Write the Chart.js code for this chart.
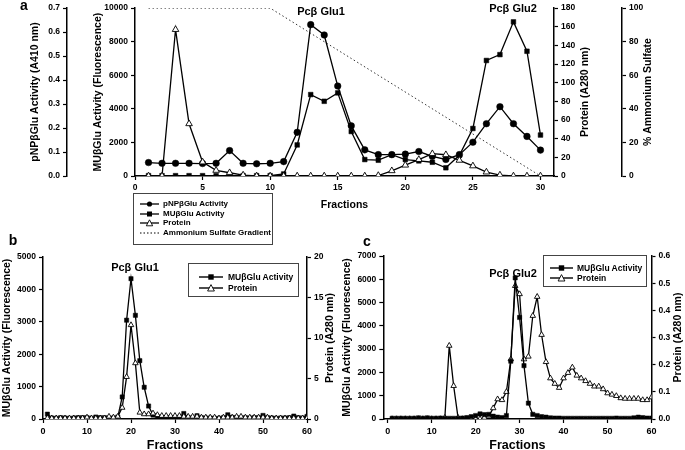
<!DOCTYPE html>
<html>
<head>
<meta charset="utf-8">
<script src="https://cdn.jsdelivr.net/npm/chart.js@4.4.1/dist/chart.umd.min.js"></script>
<style>
body { margin: 0; background: #fff; width: 685px; height: 450px; overflow: hidden; position: relative;
       font-family: "Liberation Sans", Arial, sans-serif; font-weight: bold; color: #000; }
canvas { position: absolute; display: block; }
.lbl { position: absolute; white-space: nowrap; line-height: 1; transform: translate(-50%, -50%); }
.legend { position: absolute; border: 1px solid #444; background: #fff; box-sizing: border-box; }
.legend .row { position: absolute; left: 0; white-space: nowrap; line-height: 1; display: flex; align-items: center; }
.legend svg { display: block; }
</style>
</head>
<body>
<canvas id="chartA" width="685" height="215" style="left:0px;top:0px"></canvas>
<canvas id="chartB" width="345" height="220" style="left:0px;top:235px"></canvas>
<canvas id="chartC" width="345" height="220" style="left:340px;top:235px"></canvas>

<div class="lbl" style="left:24px;top:5px;font-size:14px">a</div>
<div class="lbl" style="left:13px;top:240px;font-size:14px">b</div>
<div class="lbl" style="left:367px;top:241px;font-size:14px">c</div>
<div class="lbl" style="left:321px;top:11px;font-size:11px">Pcβ Glu1</div>
<div class="lbl" style="left:513px;top:8px;font-size:11px">Pcβ Glu2</div>
<div class="lbl" style="left:135px;top:267px;font-size:11px">Pcβ Glu1</div>
<div class="lbl" style="left:513px;top:273px;font-size:11px">Pcβ Glu2</div>

<div class="legend" style="left:133px;top:193px;width:140px;height:52px;font-size:8px">
  <div class="row" style="left:6px;top:6px"><svg width="19" height="8"><line x1="0" y1="4" x2="19" y2="4" stroke="#000" stroke-width="1.3"/><circle cx="9.5" cy="4" r="2.6" fill="#000"/></svg><span style="margin-left:4px">pNPβGlu Activity</span></div>
  <div class="row" style="left:6px;top:15.5px"><svg width="19" height="8"><line x1="0" y1="4" x2="19" y2="4" stroke="#000" stroke-width="1.3"/><rect x="7" y="1.5" width="5" height="5" fill="#000"/></svg><span style="margin-left:4px">MUβGlu Activity</span></div>
  <div class="row" style="left:6px;top:25px"><svg width="19" height="8"><line x1="0" y1="4" x2="19" y2="4" stroke="#000" stroke-width="1.3"/><polygon points="9.5,0.8 12.7,6.8 6.3,6.8" fill="#fff" stroke="#000" stroke-width="0.9"/></svg><span style="margin-left:4px">Protein</span></div>
  <div class="row" style="left:6px;top:34.5px"><svg width="19" height="8"><line x1="0" y1="4" x2="19" y2="4" stroke="#000" stroke-width="1" stroke-dasharray="1.5,2"/></svg><span style="margin-left:4px">Ammonium Sulfate Gradient</span></div>
</div>

<div class="legend" style="left:188px;top:263px;width:111px;height:34px;font-size:8.5px">
  <div class="row" style="left:10px;top:9px"><svg width="24" height="8"><line x1="0" y1="4" x2="24" y2="4" stroke="#000" stroke-width="1.4"/><rect x="9.3" y="1.3" width="5.4" height="5.4" fill="#000"/></svg><span style="margin-left:5px">MUβGlu Activity</span></div>
  <div class="row" style="left:10px;top:19.5px"><svg width="24" height="8"><line x1="0" y1="4" x2="24" y2="4" stroke="#000" stroke-width="1.4"/><polygon points="12,0.6 15.4,7 8.6,7" fill="#fff" stroke="#000" stroke-width="0.9"/></svg><span style="margin-left:5px">Protein</span></div>
</div>

<div class="legend" style="left:543px;top:255px;width:104px;height:32px;font-size:8.5px">
  <div class="row" style="left:6px;top:8px"><svg width="23" height="8"><line x1="0" y1="4" x2="23" y2="4" stroke="#000" stroke-width="1.4"/><rect x="8.8" y="1.3" width="5.4" height="5.4" fill="#000"/></svg><span style="margin-left:4px">MUβGlu Activity</span></div>
  <div class="row" style="left:6px;top:18px"><svg width="23" height="8"><line x1="0" y1="4" x2="23" y2="4" stroke="#000" stroke-width="1.4"/><polygon points="11.5,0.6 14.9,7 8.1,7" fill="#fff" stroke="#000" stroke-width="0.9"/></svg><span style="margin-left:4px">Protein</span></div>
</div>

<script>
// ---- panel a: 30 fractions ----
const fractionsA = [1, 2, 3, 4, 5, 6, 7, 8, 9, 10, 11, 12, 13, 14, 15, 16, 17, 18, 19, 20, 21, 22, 23, 24, 25, 26, 27, 28, 29, 30];
const pnpA = [0.056, 0.053, 0.053, 0.053, 0.052, 0.053, 0.106, 0.053, 0.051, 0.053, 0.060, 0.182, 0.631, 0.588, 0.375,
              0.209, 0.109, 0.089, 0.089, 0.091, 0.102, 0.082, 0.069, 0.089, 0.141, 0.218, 0.289, 0.218, 0.165, 0.108];
const muA = [20, 20, 20, 20, 20, 20, 20, 20, 20, 20, 120, 1850, 4850, 4450, 4950,
             2650, 980, 940, 1270, 980, 900, 820, 490, 1230, 2830, 6880, 7230, 9180, 7430, 2440];
const proteinA = [0, 0, 157, 56, 15, 6, 3.5, 1, 0, 0, 0, 0, 0, 0, 0,
                  0, 0, 0.5, 5.6, 11.6, 17.6, 23.9, 22.8, 16.8, 10.8, 4.2, 1, 0, 0, 0];
const gradFractions = [1, 10, 30];
const gradPercent = [100, 100, 0];

const xTicksA = [0, 5, 10, 15, 20, 25, 30];
const pnpTicks = [0, 0.1, 0.2, 0.3, 0.4, 0.5, 0.6, 0.7];
const muTicksA = [0, 2000, 4000, 6000, 8000, 10000];
const proteinTicksA = [0, 20, 40, 60, 80, 100, 120, 140, 160, 180];
const sulfateTicks = [0, 20, 40, 60, 80, 100];

// ---- panels b and c: 60 fractions ----
const fractionsBC = [1, 2, 3, 4, 5, 6, 7, 8, 9, 10, 11, 12, 13, 14, 15, 16, 17, 18, 19, 20,
                     21, 22, 23, 24, 25, 26, 27, 28, 29, 30, 31, 32, 33, 34, 35, 36, 37, 38, 39, 40,
                     41, 42, 43, 44, 45, 46, 47, 48, 49, 50, 51, 52, 53, 54, 55, 56, 57, 58, 59, 60];
const muB = [150, 30, 20, 40, 30, 20, 30, 40, 40, 40, 20, 60, 40, 40, 30, 30, 60, 680, 3050, 4330,
             3200, 1800, 980, 400, 120, 50, 40, 30, 40, 30, 50, 170, 40, 30, 100, 40, 30, 30, 20, 20,
             40, 130, 50, 40, 30, 40, 30, 40, 40, 110, 40, 30, 20, 30, 30, 40, 90, 40, 30, 80];
const proteinB = [0.1, 0.1, 0.1, 0.1, 0.1, 0.1, 0.1, 0.1, 0.1, 0.2, 0.1, 0.1, 0.1, 0.1, 0.3, 0.2, 0.3, 1.4, 5.2, 11.6,
                  6.9, 0.8, 0.6, 0.6, 0.7, 0.5, 0.4, 0.4, 0.4, 0.4, 0.4, 0.3, 0.3, 0.3, 0.3, 0.2, 0.2, 0.2, 0.2, 0.1,
                  0.2, 0.2, 0.2, 0.3, 0.3, 0.2, 0.2, 0.2, 0.2, 0.2, 0.2, 0.1, 0.1, 0.1, 0.1, 0.1, 0.1, 0.1, 0.1, 0.1];
const muC = [30, 30, 30, 30, 30, 30, 50, 30, 50, 30, 30, 40, 30, 30, 30, 30, 40, 60, 100, 150,
             220, 190, 200, 120, 80, 60, 150, 2480, 6060, 4360, 2290, 680, 200, 150, 100, 80, 50, 40, 40, 30,
             30, 30, 30, 30, 30, 30, 30, 30, 30, 30, 30, 40, 30, 30, 30, 50, 80, 60, 40, 40];
const proteinC = [0, 0, 0, 0, 0, 0, 0, 0, 0, 0, 0, 0, 0.005, 0.27, 0.122, 0.005, 0, 0, 0, 0,
                  0, 0.005, 0.01, 0.04, 0.073, 0.07, 0.1, 0.22, 0.49, 0.46, 0.22, 0.23, 0.38, 0.45, 0.31, 0.21, 0.15, 0.13, 0.115, 0.15,
                  0.17, 0.19, 0.16, 0.15, 0.14, 0.13, 0.12, 0.12, 0.11, 0.095, 0.09, 0.085, 0.077, 0.075, 0.075, 0.075, 0.075, 0.07, 0.07, 0.08];

const xTicksBC = [0, 10, 20, 30, 40, 50, 60];
const muTicksB = [0, 1000, 2000, 3000, 4000, 5000];
const proteinTicksB = [0, 5, 10, 15, 20];
const muTicksC = [0, 1000, 2000, 3000, 4000, 5000, 6000, 7000];
const proteinTicksC = [0, 0.1, 0.2, 0.3, 0.4, 0.5, 0.6];

const FONT = '"Liberation Sans", Arial, sans-serif';

// right hand axis titles read bottom-to-top like the left ones
const sideTitles = {
    id: 'sideTitles',
    afterDraw(chart, args, opts) {
        const ctx = chart.ctx;
        ctx.save();
        ctx.fillStyle = '#000';
        ctx.font = 'bold ' + opts.size + 'px ' + FONT;
        ctx.textAlign = 'center';
        ctx.textBaseline = 'middle';
        opts.items.forEach(it => {
            const s = chart.scales[it.scale];
            ctx.save();
            ctx.translate(s.right - it.offset, (s.top + s.bottom) / 2);
            ctx.rotate(-Math.PI / 2);
            ctx.fillText(it.text, 0, 0);
            ctx.restore();
        });
        ctx.restore();
    }
};

function axis(position, min, max, tickList, width, opts) {
    opts = opts || {};
    const a = {
        type: 'linear',
        position: position,
        min: min,
        max: max,
        weight: opts.weight || 0,
        afterBuildTicks: s => { s.ticks = tickList.map(v => ({ value: v })); },
        ticks: {
            color: '#000',
            padding: 3,
            font: { family: FONT, weight: 'bold', size: opts.tickSize || 8.5 },
            callback: opts.fmt || (v => v)
        },
        grid: { drawOnChartArea: false, drawTicks: true, tickLength: 4, tickColor: '#000', tickWidth: 1.2 },
        border: { display: true, color: '#000', width: 1.5 },
        title: { display: false }
    };
    if (position === 'bottom') {
        a.afterFit = s => { s.height = width; };
    } else {
        a.afterFit = s => { s.width = width; };
    }
    if (opts.title) {
        a.title = {
            display: true,
            text: opts.title,
            color: '#000',
            font: { family: FONT, weight: 'bold', size: opts.titleSize || 10.5 },
            padding: opts.titlePad || 0
        };
    }
    return a;
}

function lineSet(label, data, axisId, style, radius) {
    const filled = style !== 'triangle';
    return {
        label: label,
        data: data,
        yAxisID: axisId,
        borderColor: '#000',
        borderWidth: 1.3,
        pointStyle: style,
        pointRadius: radius,
        pointBackgroundColor: filled ? '#000' : '#fff',
        pointBorderColor: '#000',
        pointBorderWidth: filled ? 0.5 : 0.9,
        tension: 0,
        fill: false
    };
}

const common = {
    responsive: false,
    animation: false,
    devicePixelRatio: 1,
    plugins: { legend: { display: false }, tooltip: { enabled: false } }
};

new Chart(document.getElementById('chartA'), {
    type: 'line',
    data: {
        labels: fractionsA,
        datasets: [
            lineSet('Protein', proteinA, 'yProt', 'triangle', 3.8),
            lineSet('pNPβGlu Activity', pnpA, 'yPnp', 'circle', 3.3),
            lineSet('MUβGlu Activity', muA, 'yMu', 'rect', 3.3),
            {
                label: 'Ammonium Sulfate Gradient',
                data: gradFractions.map((f, i) => ({ x: f, y: gradPercent[i] })),
                yAxisID: 'yAs',
                borderColor: '#333',
                borderWidth: 1,
                borderDash: [1.5, 2.5],
                pointRadius: 0,
                fill: false
            }
        ]
    },
    options: Object.assign({}, common, {
        layout: { padding: { top: 5, left: 0, right: 0, bottom: 0 } },
        scales: {
            x: axis('bottom', 0, 31, xTicksA, 39, { title: 'Fractions', titlePad: { bottom: 3.8 } }),
            yPnp: axis('left', 0, 0.7, pnpTicks, 67, { weight: 2, fmt: v => v.toFixed(1), title: 'pNPβGlu Activity (A410 nm)', titlePad: { top: 28.5 } }),
            yMu: axis('left', 0, 10000, muTicksA, 68, { weight: 1, title: 'MUβGlu Activity (Fluorescence)', titlePad: { top: 24.5 } }),
            yProt: axis('right', 0, 180, proteinTicksA, 68, { weight: 0 }),
            yAs: axis('right', 0, 100, sulfateTicks, 63, { weight: 1 })
        },
        plugins: Object.assign({}, common.plugins, {
            sideTitles: { size: 10.5, items: [
                { scale: 'yProt', text: 'Protein (A280 nm)', offset: 37 },
                { scale: 'yAs', text: '% Ammonium Sulfate', offset: 37 }
            ] }
        })
    }),
    plugins: [sideTitles]
});

new Chart(document.getElementById('chartB'), {
    type: 'line',
    data: {
        labels: fractionsBC,
        datasets: [
            lineSet('Protein', proteinB, 'yProt', 'triangle', 3.2),
            lineSet('MUβGlu Activity', muB, 'yMu', 'rect', 3)
        ]
    },
    options: Object.assign({}, common, {
        layout: { padding: { top: 22, left: 0, right: 0, bottom: 0 } },
        scales: {
            x: axis('bottom', 0, 60, xTicksBC, 36, { tickSize: 9, title: 'Fractions', titleSize: 12.5, titlePad: { bottom: 1.5 } }),
            yMu: axis('left', 0, 5000, muTicksB, 43, { title: 'MUβGlu Activity (Fluorescence)', titlePad: { top: 0.5 } }),
            yProt: axis('right', 0, 20, proteinTicksB, 38)
        },
        plugins: Object.assign({}, common.plugins, {
            sideTitles: { size: 10.5, items: [{ scale: 'yProt', text: 'Protein (A280 nm)', offset: 15 }] }
        })
    }),
    plugins: [sideTitles]
});

new Chart(document.getElementById('chartC'), {
    type: 'line',
    data: {
        labels: fractionsBC,
        datasets: [
            lineSet('MUβGlu Activity', muC, 'yMu', 'rect', 3),
            lineSet('Protein', proteinC, 'yProt', 'triangle', 3.2)
        ]
    },
    options: Object.assign({}, common, {
        layout: { padding: { top: 21, left: 0, right: 0, bottom: 0 } },
        scales: {
            x: axis('bottom', -1, 60, xTicksBC, 36, { tickSize: 9, title: 'Fractions', titleSize: 12.5, titlePad: { bottom: 1.5 } }),
            yMu: axis('left', 0, 7000, muTicksC, 43.3, { title: 'MUβGlu Activity (Fluorescence)', titlePad: { top: 0.7 } }),
            yProt: axis('right', 0, 0.6, proteinTicksC, 33.5, { fmt: v => v.toFixed(1) })
        },
        plugins: Object.assign({}, common.plugins, {
            sideTitles: { size: 10.5, items: [{ scale: 'yProt', text: 'Protein (A280 nm)', offset: 7 }] }
        })
    }),
    plugins: [sideTitles]
});
</script>
</body>
</html>
